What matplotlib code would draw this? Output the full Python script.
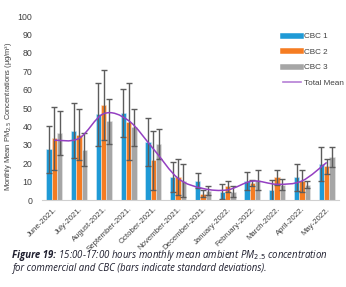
import numpy as np
import matplotlib.pyplot as plt
from matplotlib.path import Path
from matplotlib.patches import PathPatch
from matplotlib.lines import Line2D

months = ['June-2021.', 'July-2021.', 'August-2021.', 'September-2021.', 'October-2021.',
          'November-2021.', 'December-2021.', 'January-2022.', 'February-2022.',
          'March-2022.', 'April-2022.', 'May-2022.']
cbc1 = [27.5, 37.6, 46.5, 47.5, 31.5, 12.5, 10.5, 4.6, 10.5, 5.2, 12.3, 19.6]
cbc2 = [33.5, 35.5, 51.7, 42.6, 21.5, 12.5, 3.4, 7.4, 9.4, 12.3, 10.5, 18.3]
cbc3 = [36.6, 27.4, 42.7, 39.5, 30.5, 10.4, 5.0, 4.6, 11.0, 8.2, 8.3, 23.4]
err1 = [13.0, 15.0, 17.0, 13.0, 13.0, 8.0, 4.0, 4.0, 5.0, 5.5, 7.5, 9.0]
err2 = [17.0, 14.0, 19.0, 21.0, 16.0, 10.0, 2.0, 3.0, 1.5, 4.0, 6.0, 4.0]
err3 = [12.0, 9.0, 12.0, 10.0, 8.0, 9.0, 2.5, 3.0, 5.5, 3.0, 2.0, 5.5]

c1, c2, c3 = '#1f9ad6', '#f57c22', '#a6a6a6'
purple = '#9440c2'
tick_font = ['Liberation Sans Narrow', 'Liberation Sans', 'DejaVu Sans']

fig = plt.figure(figsize=(3.46, 2.87), dpi=100)
ax = fig.add_axes([0.121, 0.303, 0.859, 0.641])

x = np.arange(len(months))
w = 0.215
ekw = dict(ecolor='#5c5c5c', elinewidth=1.0, capsize=2, capthick=1.0)
ax.bar(x - w, cbc1, w, yerr=err1, color=c1, edgecolor='#d9eef8', linewidth=0.4, error_kw=ekw)
ax.bar(x, cbc2, w, yerr=err2, color=c2, edgecolor='#fde3cf', linewidth=0.4, error_kw=ekw)
ax.bar(x + w, cbc3, w, yerr=err3, color=c3, edgecolor='#e8e8e8', linewidth=0.4, error_kw=ekw)

# total mean, drawn as a smoothed curve (catmull-rom -> bezier)
total = (np.array(cbc1) + np.array(cbc2) + np.array(cbc3)) / 3
pts = np.column_stack([x, total]).astype(float)
ext = np.vstack([pts[0], pts, pts[-1]])
verts = [tuple(pts[0])]
codes = [Path.MOVETO]
for i in range(1, len(ext) - 2):
    p0, p1, p2, p3 = ext[i - 1], ext[i], ext[i + 1], ext[i + 2]
    verts += [tuple(p1 + (p2 - p0) / 6), tuple(p2 - (p3 - p1) / 6), tuple(p2)]
    codes += [Path.CURVE4] * 3
ax.add_patch(PathPatch(Path(verts, codes), fill=False, edgecolor=purple, lw=1.1, zorder=5))

ax.set_xlim(-0.5, 11.5)
ax.set_ylim(0, 100)
ax.set_yticks(range(0, 101, 10))
ax.set_xticks(x)
ax.set_xticklabels(months, rotation=45, ha='right', rotation_mode='anchor',
                   fontsize=5.6, family=tick_font, color='#404040')
for lab in ax.get_yticklabels():
    lab.set_family(tick_font)
ax.tick_params(axis='y', length=0, labelsize=6.3, labelcolor='#404040', pad=7)
ax.tick_params(axis='x', length=0, pad=4)
for s in ['top', 'right', 'left']:
    ax.spines[s].set_visible(False)
ax.spines['bottom'].set_color('#d0d0d0')

plt.rcParams['mathtext.fontset'] = 'custom'
plt.rcParams['mathtext.rm'] = 'Liberation Sans Narrow'
ax.set_ylabel('Monthly Mean PM$_{2.5}$ Concentrations (\u00b5g/m\u00b3)', fontsize=5.4,
              family=tick_font, color='#404040')
ax.yaxis.set_label_coords(-0.094, 0.457)

handles = [Line2D([], [], color=c1, lw=4.0), Line2D([], [], color=c2, lw=4.0),
           Line2D([], [], color=c3, lw=4.0), Line2D([], [], color='#b57fd6', lw=1.2)]
ax.legend(handles, ['CBC 1', 'CBC 2', 'CBC 3', 'Total Mean'], loc='upper right',
          bbox_to_anchor=(1.04, 0.95), frameon=False, handlelength=2.2, handletextpad=0.3,
          labelspacing=0.95, prop={'family': tick_font, 'size': 5.9}, labelcolor='#404040')

# caption
cap = dict(fontsize=6.9, style='italic', family='Open Sans', color='#1e1e2e')
t1 = fig.text(0.035, 0.1, 'Figure 19:', fontweight='bold', **cap)
fig.canvas.draw()
bb = t1.get_window_extent().transformed(fig.transFigure.inverted())
fig.text(bb.x1, 0.1, ' 15:00-17:00 hours monthly mean ambient PM$_{\\mathit{2.5}}$ concentration', **cap)
fig.text(0.035, 0.056, 'for commercial and CBC (bars indicate standard deviations).', **cap)

fig.savefig('out.png', dpi=100)
